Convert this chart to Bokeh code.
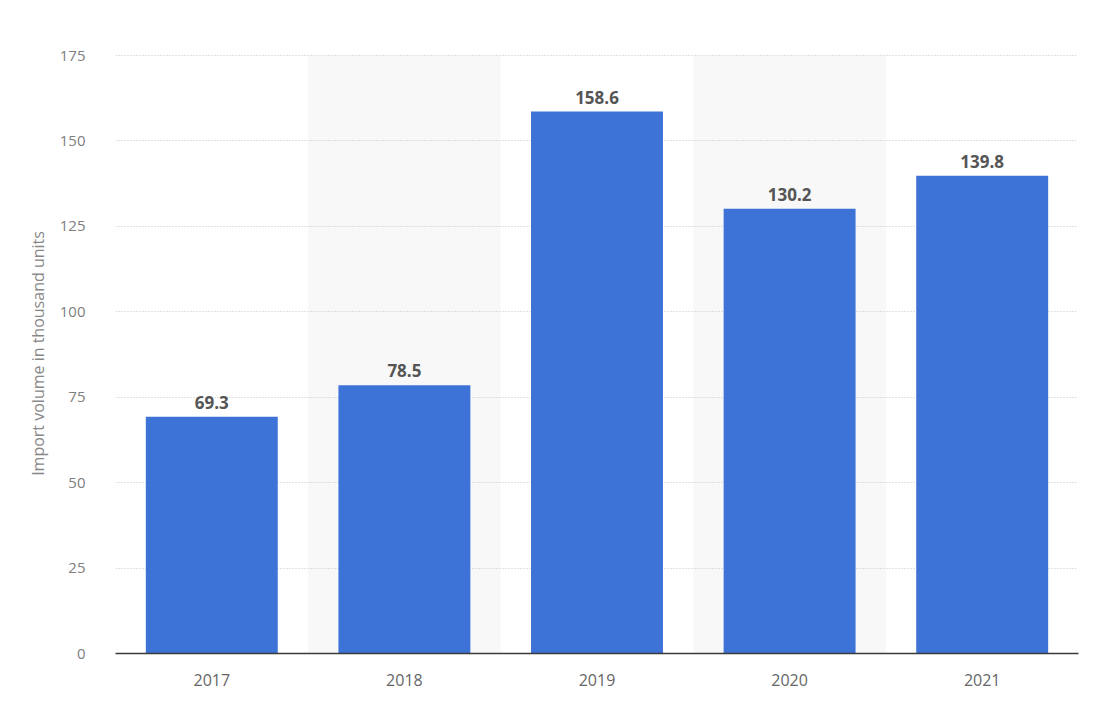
from bokeh.plotting import figure
from bokeh.models import ColumnDataSource, FixedTicker, FactorRange
from bokeh.core.properties import value
from bokeh.embed import file_html
from bokeh.resources import INLINE

years = ["2017", "2018", "2019", "2020", "2021"]
volumes = [69.3, 78.5, 158.6, 130.2, 139.8]
labels = ["69.3", "78.5", "158.6", "130.2", "139.8"]
shaded_years = ["2018", "2020"]
y_ticks = [0, 25, 50, 75, 100, 125, 150, 175]
y_max = 175.6

FONT = "Open Sans"

p = figure(x_range=FactorRange(*years), y_range=(0, y_max),
           frame_width=963, frame_height=600,
           min_border_left=115, min_border_top=53, min_border_right=19, min_border_bottom=50,
           output_backend="svg", toolbar_location=None)
p.outline_line_color = None
p.background_fill_color = "white"
p.border_fill_color = "white"

# shaded bands
band_src = ColumnDataSource(dict(x=shaded_years, top=[175] * len(shaded_years)))
p.vbar(x="x", top="top", bottom=0, width=1.0, source=band_src,
       fill_color="#f8f8f8", line_color=None, level="image")

src = ColumnDataSource(dict(x=years, top=volumes, label=labels))
p.vbar(x="x", top="top", width=0.685, source=src,
       fill_color="#3d72d7", line_color=None)
p.text(x="x", y="top", text="label", source=src, y_offset=-8,
       text_align="center", text_baseline="bottom",
       text_font=value(FONT), text_font_style="bold", text_font_size="17px",
       text_color="#555555")

# grid
p.xgrid.grid_line_color = None
p.ygrid.ticker = FixedTicker(ticks=y_ticks[1:])
p.ygrid.grid_line_color = "#c4c4c4"
p.ygrid.grid_line_dash = "1 2"
p.ygrid.grid_line_width = 1

# y axis
p.yaxis.ticker = FixedTicker(ticks=y_ticks)
p.yaxis.axis_line_color = None
p.yaxis.major_tick_line_color = None
p.yaxis.minor_tick_line_color = None
p.yaxis.major_label_standoff = 24
p.yaxis.major_label_text_font = FONT
p.yaxis.major_label_text_font_size = "15px"
p.yaxis.major_label_text_color = "#808080"
p.yaxis.axis_label = "Import volume in thousand units"
p.yaxis.axis_label_text_font = FONT
p.yaxis.axis_label_text_font_size = "16px"
p.yaxis.axis_label_text_font_style = "normal"
p.yaxis.axis_label_text_color = "#888888"
p.yaxis.axis_label_standoff = 8

# x axis
p.xaxis.axis_line_color = "#3a3a3a"
p.xaxis.axis_line_width = 1.5
p.xaxis.major_tick_line_color = None
p.xaxis.minor_tick_line_color = None
p.xaxis.major_label_standoff = 14
p.xaxis.major_label_text_font = FONT
p.xaxis.major_label_text_font_size = "16px"
p.xaxis.major_label_text_color = "#666666"

open("out.html", "w").write(file_html(p, INLINE))
